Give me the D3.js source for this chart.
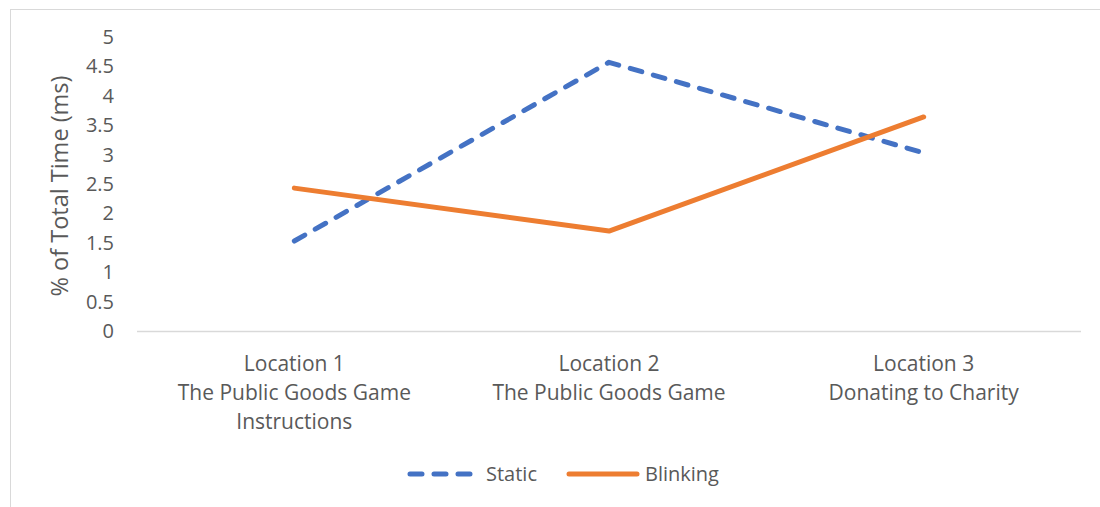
<!DOCTYPE html>
<meta charset="utf-8">
<title>Time by location</title>
<style>
body {
  margin: 0;
  background: #fff;
}
text {
  font-family: "Open Sans", Lato, sans-serif;
  fill: #595959;
}
</style>
<body>
<script src="https://cdn.jsdelivr.net/npm/d3@7"></script>
<script>

var categories = [
  ["Location 1", "The Public Goods Game", "Instructions"],
  ["Location 2", "The Public Goods Game"],
  ["Location 3", "Donating to Charity"]
];
var staticVals = [1.53, 4.57, 3.03];
var blinkingVals = [2.43, 1.70, 3.64];
var yTicks = [0, 0.5, 1, 1.5, 2, 2.5, 3, 3.5, 4, 4.5, 5];

var w = 1100,
    h = 507;

var svg = d3.select("body").append("svg")
    .attr("width", w)
    .attr("height", h);

// chart frame
svg.append("rect")
    .attr("x", 10.5).attr("y", 9.5)
    .attr("width", 1200).attr("height", 600)
    .attr("fill", "none")
    .attr("stroke", "#d9d9d9");

var x = d3.scaleBand()
    .domain(d3.range(categories.length))
    .range([137, 1081]);

var y = d3.scaleLinear()
    .domain([0, 5])
    .range([331, 37]);

// baseline
svg.append("line")
    .attr("x1", 137).attr("x2", 1081)
    .attr("y1", y(0) + 0.5).attr("y2", y(0) + 0.5)
    .attr("stroke", "#d9d9d9")
    .attr("stroke-width", 1.5);

// y tick labels
svg.selectAll(".ytick")
    .data(yTicks)
  .enter().append("text")
    .attr("class", "ytick")
    .attr("x", 114)
    .attr("y", function(d) { return y(d); })
    .attr("dy", "0.35em")
    .attr("text-anchor", "end")
    .style("font-size", "20px")
    .text(function(d) { return d; });

// y title
svg.append("text")
    .attr("transform", "translate(68,186)rotate(-90)")
    .attr("text-anchor", "middle")
    .style("font-size", "23.5px")
    .text("% of Total Time (ms)");

// category labels
var cat = svg.selectAll(".cat")
    .data(categories)
  .enter().append("text")
    .attr("class", "cat")
    .attr("text-anchor", "middle")
    .style("font-size", "21px");

cat.selectAll("tspan")
    .data(function(d, i) { return d.map(function(s) { return {s: s, i: i}; }); })
  .enter().append("tspan")
    .attr("x", function(d) { return x(d.i) + x.bandwidth() / 2; })
    .attr("y", function(d, j) { return 371 + j * 29; })
    .text(function(d) { return d.s; });

var line = d3.line()
    .x(function(d, i) { return x(i) + x.bandwidth() / 2; })
    .y(function(d) { return y(d); });

svg.append("path")
    .datum(staticVals)
    .attr("d", line)
    .attr("fill", "none")
    .attr("stroke", "#4472c4")
    .attr("stroke-width", 5)
    .attr("stroke-linecap", "round")
    .attr("stroke-linejoin", "round")
    .attr("stroke-dasharray", "12,12");

svg.append("path")
    .datum(blinkingVals)
    .attr("d", line)
    .attr("fill", "none")
    .attr("stroke", "#ed7d31")
    .attr("stroke-width", 5)
    .attr("stroke-linecap", "round")
    .attr("stroke-linejoin", "round");

// legend
var legend = [
  {name: "Static", color: "#4472c4", dash: "12,12", x0: 410, x1: 472, tx: 486},
  {name: "Blinking", color: "#ed7d31", dash: null, x0: 569, x1: 637, tx: 645}
];

var lg = svg.selectAll(".lg")
    .data(legend)
  .enter().append("g")
    .attr("class", "lg");

lg.append("line")
    .attr("x1", function(d) { return d.x0; })
    .attr("x2", function(d) { return d.x1; })
    .attr("y1", 474).attr("y2", 474)
    .attr("stroke", function(d) { return d.color; })
    .attr("stroke-width", 5)
    .attr("stroke-linecap", "round")
    .attr("stroke-dasharray", function(d) { return d.dash; });

lg.append("text")
    .attr("x", function(d) { return d.tx; })
    .attr("y", 474)
    .attr("dy", "0.35em")
    .style("font-size", "20px")
    .text(function(d) { return d.name; });

</script>
